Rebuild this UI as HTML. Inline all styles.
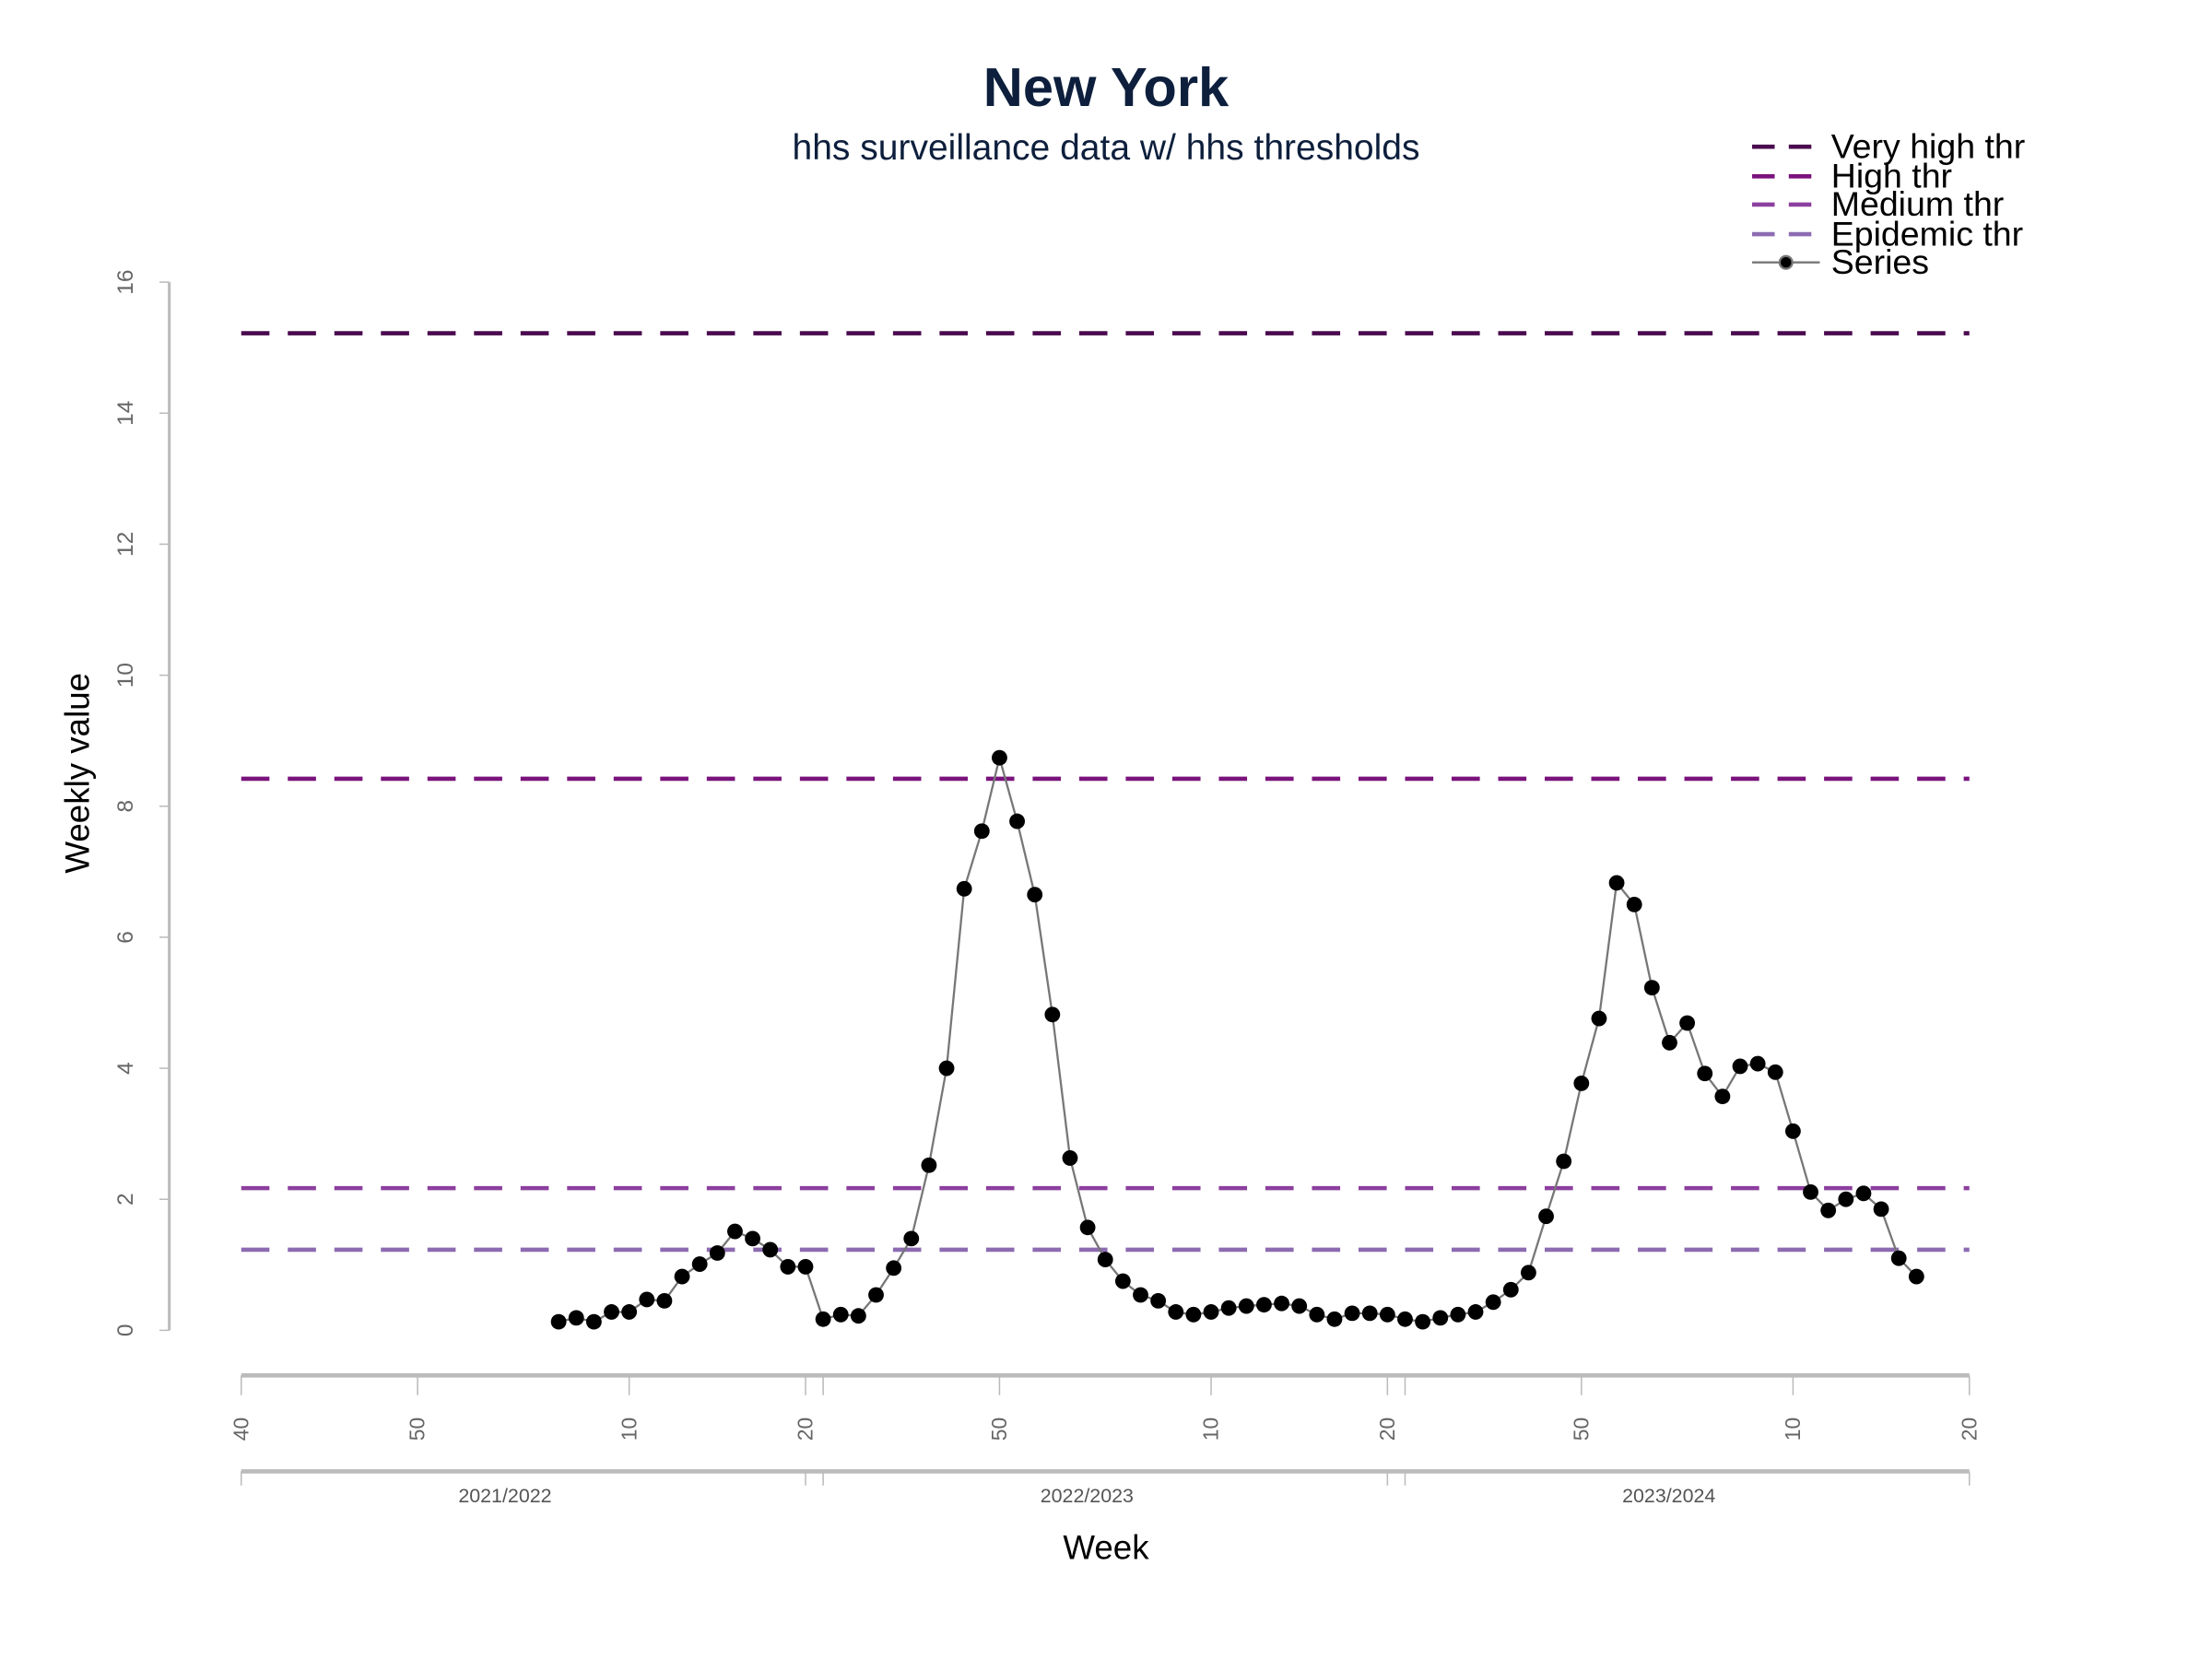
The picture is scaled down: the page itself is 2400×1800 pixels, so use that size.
<!DOCTYPE html>
<html><head><meta charset="utf-8"><style>
html,body{margin:0;padding:0;background:#fff;}
svg{display:block;font-family:"Liberation Sans",sans-serif;}
</style></head><body>
<svg id="chart" width="2400" height="1800" viewBox="0 0 1568 1176" xmlns="http://www.w3.org/2000/svg">
<rect width="1568" height="1176" fill="#fff"/>
<text x="784" y="75" text-anchor="middle" font-size="39" font-weight="bold" fill="#0d1f3c">New York</text>
<text x="784" y="113" text-anchor="middle" font-size="25.5" fill="#0d1f3c">hhs surveillance data w/ hhs thresholds</text>
<g id="yaxis"></g>
<g id="xaxis"></g>
<g id="thr"></g>
<g id="series"></g>
<g id="legend"></g>
<text transform="translate(63,548) rotate(-90)" text-anchor="middle" font-size="24" fill="#000">Weekly value</text>
<text x="784" y="1105" text-anchor="middle" font-size="24" fill="#000">Week</text>
</svg>
<script>
const yTicks = [0,2,4,6,8,10,12,14,16];
const thrNames = ["Very high thr","High thr","Medium thr","Epidemic thr"];
const thrValues = [15.22,8.42,2.17,1.23];
const thrColors = ["#4a0a4e","#7b137d","#8c3f9e","#8c6bb1"];
const weekTickLabels = ["40","50","10","20","50","10","20","50","10","20"];
const weekTickIndex = [0,10,22,32,43,55,65,76,88,98];
const seasons = ["2021/2022","2022/2023","2023/2024"];
const seriesStart = 18;
const seriesValues = [0.13,0.19,0.13,0.28,0.28,0.47,0.45,0.82,1.01,1.18,1.51,1.40,1.23,0.97,0.97,
0.17,0.24,0.22,0.54,0.95,1.40,2.52,4.00,6.74,7.62,8.74,7.77,6.65,4.82,2.63,1.57,1.08,0.75,0.54,0.45,0.28,0.24,0.28,0.34,0.37,0.39,0.41,0.37,0.24,0.17,0.26,0.26,0.24,
0.17,0.13,0.19,0.24,0.28,0.43,0.62,0.88,1.74,2.58,3.77,4.76,6.83,6.50,5.23,4.39,4.69,3.92,3.57,4.03,4.07,3.94,3.04,2.11,1.83,2.00,2.09,1.85,1.10,0.82];

const NS="http://www.w3.org/2000/svg";
function el(t,a,p){const e=document.createElementNS(NS,t);for(const k in a)e.setAttribute(k,a[k]);p.appendChild(e);return e;}
const yS=v=>943-v*(743/16);
const xS=i=>171+12.5*i;
const X0=xS(0), X1=xS(98);

const ya=document.getElementById('yaxis');
let l=el('line',{x1:120,x2:120,y1:yS(0),y2:yS(16),stroke:'#bbb','stroke-width':2},ya);


yTicks.forEach(v=>{
  const t=el('line',{x1:113,x2:120,y1:yS(v),y2:yS(v),stroke:'#bbb','stroke-width':1},ya);
  
  
  const tx=el('text',{transform:`translate(94,${yS(v)}) rotate(-90)`,'text-anchor':'middle','font-size':16,fill:'#666'},ya);
  tx.textContent=v;
  
  
});

const xa=document.getElementById('xaxis');
l=el('line',{x1:X0,x2:X1,y1:975,y2:975,stroke:'#bbb','stroke-width':3},xa);


weekTickIndex.forEach((ix,k)=>{
  const t=el('line',{x1:xS(ix),x2:xS(ix),y1:975,y2:989,stroke:'#bbb','stroke-width':1},xa);
  
  
  const tx=el('text',{transform:`translate(${xS(ix)+5},1013) rotate(-90)`,'text-anchor':'middle','font-size':15,fill:'#666'},xa);
  tx.textContent=weekTickLabels[k];
  
  
});
[33,66].forEach(ix=>{
  const t=el('line',{x1:xS(ix),x2:xS(ix),y1:975,y2:989,stroke:'#bbb','stroke-width':1},xa);
  
  
});
l=el('line',{x1:X0,x2:X1,y1:1043,y2:1043,stroke:'#bbb','stroke-width':3},xa);


seasons.forEach((s,k)=>{
  const a=xS(33*k), b=xS(33*k+32);
  [a,b].forEach(x=>{
    const t=el('line',{x1:x,x2:x,y1:1043,y2:1053,stroke:'#bbb','stroke-width':1},xa);
    
    
  });
  const tx=el('text',{x:(a+b)/2-13,y:1065,'text-anchor':'middle','font-size':14,fill:'#555'},xa);
  tx.textContent=s;
  
  
});

const tg=document.getElementById('thr');
thrValues.forEach((v,k)=>{
  const t=el('line',{x1:X0,x2:X1,y1:yS(v),y2:yS(v),stroke:thrColors[k],'stroke-width':3,'stroke-dasharray':'20 13'},tg);
  
  
});

const sg=document.getElementById('series');
const pts=seriesValues.map((v,i)=>xS(seriesStart+i)+','+yS(v)).join(' ');
const pl=el('polyline',{points:pts,fill:'none',stroke:'#777','stroke-width':1.5},sg);


seriesValues.forEach((v,i)=>{
  const c=el('circle',{cx:xS(seriesStart+i),cy:yS(v),r:5.5,fill:'#000'},sg);
  
  
});

const lg=document.getElementById('legend');
const rows=[104,125,145,166,186];
thrNames.forEach((n,k)=>{
  const t=el('line',{x1:1242,x2:1290,y1:rows[k],y2:rows[k],stroke:thrColors[k],'stroke-width':3,'stroke-dasharray':'16 10'},lg);
  
  
  const tx=el('text',{x:1298,y:rows[k]+8,'font-size':24.5,fill:'#000'},lg);
  tx.textContent=n;
  
  
});
l=el('line',{x1:1242,x2:1290,y1:rows[4],y2:rows[4],stroke:'#777','stroke-width':1.5},lg);


const lc=el('circle',{cx:1266,cy:rows[4],r:4.5,fill:'#000',stroke:'#777','stroke-width':1.5},lg);


const st=el('text',{x:1298,y:rows[4]+8,'font-size':24.5,fill:'#000'},lg);
st.textContent='Series';


</script>
</body></html>
